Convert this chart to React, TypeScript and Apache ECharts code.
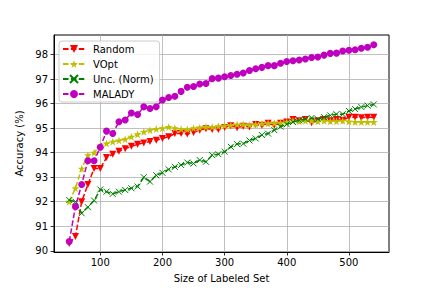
import React, { useEffect, useRef } from "react";
import * as echarts from "echarts";

const sizes = [50, 60, 70, 80, 90, 100, 110, 120, 130, 140, 150, 160, 170, 180, 190, 200, 210, 220, 230, 240, 250, 260, 270, 280, 290, 300, 310, 320, 330, 340, 350, 360, 370, 380, 390, 400, 410, 420, 430, 440, 450, 460, 470, 480, 490, 500, 510, 520, 530, 540];

const randomAcc = [90.3, 90.58, 92.0, 92.7, 93.36, 93.36, 93.8, 93.94, 94.06, 94.16, 94.26, 94.34, 94.4, 94.46, 94.51, 94.58, 94.65, 94.78, 94.78, 94.76, 94.82, 94.92, 94.98, 94.95, 94.95, 95.03, 95.1, 95.02, 95.08, 95.05, 95.15, 95.12, 95.2, 95.12, 95.2, 95.25, 95.35, 95.3, 95.35, 95.22, 95.3, 95.35, 95.3, 95.35, 95.32, 95.45, 95.45, 95.43, 95.45, 95.45];

const voptAcc = [92.0, 92.55, 93.35, 93.9, 94.0, 94.3, 94.38, 94.45, 94.5, 94.55, 94.65, 94.75, 94.85, 94.92, 94.97, 95.0, 95.05, 95.0, 94.96, 94.95, 95.0, 95.02, 95.05, 95.05, 95.08, 95.1, 95.12, 95.15, 95.15, 95.12, 95.15, 95.18, 95.2, 95.2, 95.22, 95.25, 95.3, 95.28, 95.3, 95.3, 95.28, 95.3, 95.28, 95.28, 95.3, 95.27, 95.25, 95.25, 95.25, 95.25];

const uncAcc = [92.07, 92.0, 91.53, 91.78, 92.05, 92.5, 92.41, 92.32, 92.41, 92.48, 92.55, 92.62, 93.0, 92.82, 93.08, 93.18, 93.32, 93.42, 93.5, 93.6, 93.56, 93.7, 93.63, 93.9, 93.94, 94.04, 94.24, 94.35, 94.37, 94.5, 94.58, 94.72, 94.78, 94.92, 95.06, 95.16, 95.25, 95.32, 95.37, 95.42, 95.37, 95.45, 95.52, 95.57, 95.57, 95.7, 95.78, 95.86, 95.92, 95.97];

const maladyAcc = [90.38, 91.8, 92.7, 93.67, 93.67, 94.22, 94.88, 94.78, 95.26, 95.33, 95.62, 95.56, 95.87, 95.8, 95.87, 96.15, 96.25, 96.3, 96.5, 96.67, 96.7, 96.8, 96.82, 97.02, 97.04, 97.1, 97.15, 97.2, 97.25, 97.35, 97.42, 97.48, 97.55, 97.55, 97.65, 97.72, 97.75, 97.78, 97.82, 97.88, 97.9, 97.98, 98.05, 98.06, 98.15, 98.18, 98.2, 98.26, 98.3, 98.4];

const xTicks = [100, 200, 300, 400, 500];
const yTicks = [90, 91, 92, 93, 94, 95, 96, 97, 98];

const FONT = "DejaVu Sans";

function pairs(vals: number[]) {
  return sizes.map((s, i) => [s, vals[i]]);
}

export default function App() {
  const ref = useRef<HTMLDivElement>(null);
  useEffect(() => {
    if (!ref.current) return;
    const chart = echarts.init(ref.current, undefined, { renderer: "svg" });
    const dash = [5.5, 2.4];
    const mk = (name: string, vals: number[], color: string, symbol: string, size: number, extra: any = {}) => ({
      name,
      type: "line",
      data: pairs(vals),
      symbol,
      symbolSize: size,
      showSymbol: true,
      lineStyle: { color, width: 1.5, type: dash },
      itemStyle: { color, ...(extra.itemStyle || {}) },
      symbolRotate: extra.rotate || 0,
      emphasis: { disabled: true },
      z: extra.z || 2,
    });
    chart.setOption({
      animation: false,
      backgroundColor: "#ffffff",
      textStyle: { fontFamily: FONT },
      grid: {
        left: 54,
        top: 35,
        right: 43,
        bottom: 36,
        show: true,
        borderColor: "#000",
        borderWidth: 1,
        backgroundColor: "transparent",
        containLabel: false,
      },
      legend: {
        orient: "vertical",
        left: 59,
        top: 41,
        padding: [3, 6, 3, 3],
        itemWidth: 22,
        itemHeight: 10,
        itemGap: 5,
        backgroundColor: "rgba(255,255,255,0.8)",
        borderColor: "#cccccc",
        borderWidth: 1,
        borderRadius: 3,
        textStyle: { fontFamily: FONT, fontSize: 10, color: "#000", padding: [0, 0, 0, 3] },
        data: ["Random", "VOpt", "Unc. (Norm)", "MALADY"],
      },
      xAxis: {
        type: "value",
        min: 25.5,
        max: 564.5,
        splitNumber: 5,
        name: "Size of Labeled Set",
        nameLocation: "middle",
        nameGap: 21,
        nameTextStyle: { fontFamily: FONT, fontSize: 10, color: "#000" },
        axisLine: { show: true, onZero: false, lineStyle: { color: "#000", width: 1 } },
        axisTick: { show: true, length: 3.5, lineStyle: { color: "#000", width: 0.8 }, customValues: xTicks },
        axisLabel: { fontFamily: FONT, fontSize: 10, color: "#000", margin: 5, customValues: xTicks, showMinLabel: true, showMaxLabel: true },
        splitLine: { show: true, lineStyle: { color: "#b0b0b0", width: 0.8 } },
      },
      yAxis: {
        type: "value",
        min: 89.95,
        max: 98.8,
        splitNumber: 8,
        name: "Accuracy (%)",
        nameLocation: "middle",
        nameGap: 23,
        nameTextStyle: { fontFamily: FONT, fontSize: 10, color: "#000" },
        axisLine: { show: true, onZero: false, lineStyle: { color: "#000", width: 1 } },
        axisTick: { show: true, length: 3.5, lineStyle: { color: "#000", width: 0.8 }, customValues: yTicks },
        axisLabel: { fontFamily: FONT, fontSize: 10, color: "#000", margin: 6, customValues: yTicks, showMinLabel: true, showMaxLabel: true },
        splitLine: { show: true, lineStyle: { color: "#b0b0b0", width: 0.8 } },
      },
      series: [
        mk("Random", randomAcc, "#ff0000", "triangle", 7, { rotate: 180, z: 2 }),
        mk("VOpt", voptAcc, "#bfbf00", "path://M50,0L61.8,35.4L100,35.4L69.1,57.3L80.9,92.7L50,70.8L19.1,92.7L30.9,57.3L0,35.4L38.2,35.4Z", 8, { z: 3 }),
        mk("Unc. (Norm)", uncAcc, "#008000", "path://M0,0L10,10M0,10L10,0", 6, { z: 4, itemStyle: { borderColor: "#008000", borderWidth: 1 } }),
        mk("MALADY", maladyAcc, "#bf00bf", "circle", 7, { z: 5 }),
      ],
    });
    return () => chart.dispose();
  }, []);
  return (
    <div
      ref={ref}
      style={{ position: "fixed", left: 0, top: 0, width: 432, height: 288, background: "#fff" }}
    />
  );
}
